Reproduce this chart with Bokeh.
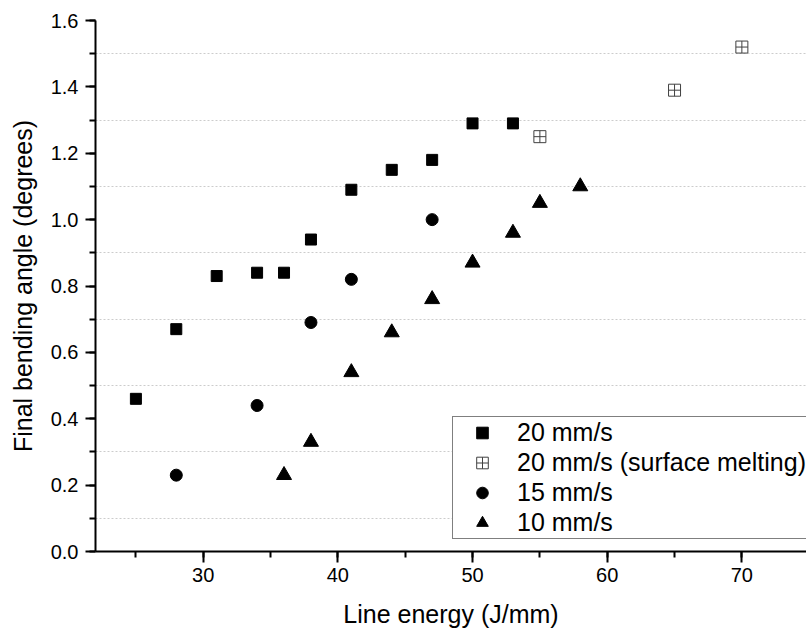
from bokeh.plotting import figure
from bokeh.models import SingleIntervalTicker, FixedTicker, Range1d, Legend, LegendItem, CustomJSTickFormatter
from bokeh.embed import file_html
from bokeh.resources import INLINE

# 20 mm/s
x20 = [25, 28, 31, 34, 36, 38, 41, 44, 47, 50, 53]
y20 = [0.46, 0.67, 0.83, 0.84, 0.84, 0.94, 1.09, 1.15, 1.18, 1.29, 1.29]
# 20 mm/s (surface melting)
x20m = [55, 65, 70]
y20m = [1.25, 1.39, 1.52]
# 15 mm/s
x15 = [28, 34, 38, 41, 47]
y15 = [0.23, 0.44, 0.69, 0.82, 1.00]
# 10 mm/s
x10 = [36, 38, 41, 44, 47, 50, 53, 55, 58]
y10 = [0.23, 0.33, 0.54, 0.66, 0.76, 0.87, 0.96, 1.05, 1.10]

y_grid = [0.1, 0.3, 0.5, 0.7, 0.9, 1.1, 1.3, 1.5]

FONT = "Liberation Sans"

p = figure(frame_width=711, frame_height=531,
           min_border_left=95, min_border_right=0, min_border_top=20, min_border_bottom=70,
           x_range=Range1d(22, 74.8), y_range=Range1d(0, 1.6),
           output_backend="svg", toolbar_location=None)
p.outline_line_color = None
p.background_fill_color = "white"

p.xaxis.ticker = SingleIntervalTicker(interval=10, num_minor_ticks=2)
p.yaxis.ticker = SingleIntervalTicker(interval=0.2, num_minor_ticks=2)
p.yaxis.formatter = CustomJSTickFormatter(code="return tick.toFixed(1);")

for ax in (p.xaxis[0], p.yaxis[0]):
    ax.axis_line_width = 2
    ax.axis_line_color = "black"
    ax.major_tick_line_width = 2
    ax.minor_tick_line_width = 2
    ax.major_tick_in = 0
    ax.minor_tick_in = 0
    ax.major_tick_out = 10
    ax.minor_tick_out = 6
    ax.major_label_text_font = FONT
    ax.major_label_text_font_size = "20px"
    ax.major_label_text_color = "black"
    ax.axis_label_text_font = FONT
    ax.axis_label_text_font_size = "25px"
    ax.axis_label_text_font_style = "normal"
    ax.axis_label_text_color = "black"

p.xaxis.major_tick_out = 11
p.xaxis.major_label_standoff = 5
p.xaxis.axis_label_standoff = 15
p.yaxis.major_label_standoff = 7
p.yaxis.axis_label_standoff = 11
p.xaxis.axis_label = "Line energy (J/mm)"
p.yaxis.axis_label = "Final bending angle (degrees)"

p.xgrid.grid_line_color = None
p.ygrid.ticker = FixedTicker(ticks=y_grid)
p.ygrid.grid_line_color = "#cccccc"
p.ygrid.grid_line_dash = "2 2"
p.ygrid.grid_line_width = 1

r1 = p.scatter(x20, y20, marker="square", size=11, fill_color="black", line_color="black")
r2 = p.scatter(x20m, y20m, marker="square_cross", size=12, fill_color="white",
               line_color="#404040", line_width=1)
r3 = p.scatter(x15, y15, marker="circle", size=12, fill_color="black", line_color="black")
r4 = p.scatter(x10, y10, marker="triangle", size=15, fill_color="black", line_color="black")

legend = Legend(items=[
    LegendItem(label="20 mm/s", renderers=[r1]),
    LegendItem(label="20 mm/s (surface melting)", renderers=[r2]),
    LegendItem(label="15 mm/s", renderers=[r3]),
    LegendItem(label="10 mm/s", renderers=[r4]),
], location=(357, 12))
legend.label_text_font = FONT
legend.label_text_font_size = "25px"
legend.label_text_color = "black"
legend.border_line_color = "black"
legend.border_line_width = 1
legend.background_fill_color = "white"
legend.background_fill_alpha = 1
legend.padding = 1
legend.spacing = 1
legend.margin = 0
legend.glyph_width = 56
legend.glyph_height = 29
legend.label_height = 29
legend.label_standoff = 7
p.add_layout(legend, "center")

open("out.html", "w").write(file_html(p, INLINE))
